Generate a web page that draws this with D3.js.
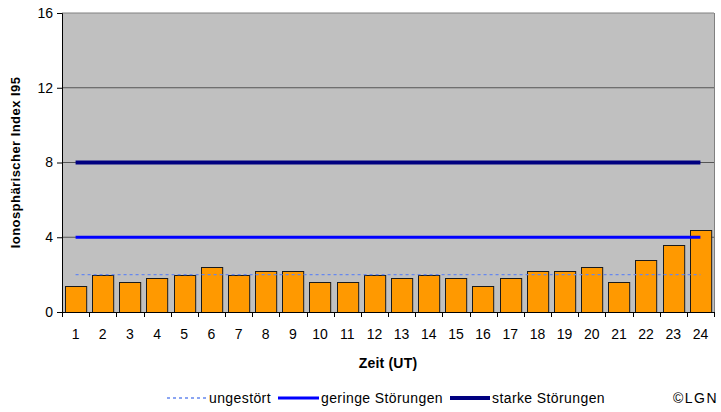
<!DOCTYPE html>
<html><head><meta charset="utf-8">
<script src="https://cdn.jsdelivr.net/npm/d3@7"></script>
<style>
body{margin:0;background:#fff;}
text{font-family:"Liberation Sans",Arial,sans-serif;}
</style></head>
<body><svg id="c" width="721" height="412"></svg>
<script>
const hours = ["1","2","3","4","5","6","7","8","9","10","11","12","13","14","15","16","17","18","19","20","21","22","23","24"];
const i95 = [1.4,2.0,1.6,1.8,2.0,2.4,2.0,2.2,2.2,1.6,1.6,2.0,1.8,2.0,1.8,1.4,1.8,2.2,2.2,2.4,1.6,2.8,3.6,4.4];
const yTicks = [0,4,8,12,16];
const ungestoert = 2;
const geringe = 4;
const starke = 8;
const legendLabels = ["ungestört","geringe Störungen","starke Störungen"];
const yTitle = "Ionosphärischer Index I95";
const xTitle = "Zeit (UT)";
const credit = "©LGN";

const svg = d3.select("#c");
const L = 62, R = 714, T = 13, B = 312;
const x = d3.scaleBand().domain(hours).range([L, R]).paddingInner(0.22).paddingOuter(0.11);
const y = d3.scaleLinear().domain([0, 16]).range([B, T]);

// plot background
svg.append("rect").attr("x", L).attr("y", T).attr("width", R - L).attr("height", B - T).attr("fill", "#c0c0c0");
// gridlines
svg.append("g").selectAll("line").data(yTicks.filter(d => d > 0)).join("line")
  .attr("x1", L).attr("x2", R).attr("y1", d => y(d)).attr("y2", d => y(d))
  .attr("stroke", d => d === 16 ? "#808080" : "#555").attr("stroke-width", 1);
// right border
svg.append("line").attr("x1", R + 0.5).attr("x2", R + 0.5).attr("y1", T).attr("y2", B).attr("stroke", "#808080");

// bars
svg.append("g").selectAll("rect").data(i95).join("rect")
  .attr("x", (d, i) => Math.round(x(hours[i])) + 0.5)
  .attr("y", d => Math.round(y(d)) + 0.5)
  .attr("width", x.bandwidth())
  .attr("height", d => B - Math.round(y(d)))
  .attr("fill", "#ff9900").attr("stroke", "#1a1a1a").attr("stroke-width", 1);

// reference lines
const cx0 = x(hours[0]) + x.bandwidth() / 2;
const cx1 = x(hours[hours.length - 1]) + x.bandwidth() / 2;
const refs = [
  {v: ungestoert, color: "#6688ee", w: 1.3, dash: "3,3"},
  {v: geringe, color: "#0000ff", w: 3, dash: null},
  {v: starke, color: "#000080", w: 4, dash: null}
];
svg.append("g").selectAll("line").data(refs).join("line")
  .attr("x1", cx0).attr("x2", cx1).attr("y1", d => y(d.v)).attr("y2", d => y(d.v))
  .attr("stroke", d => d.color).attr("stroke-width", d => d.w)
  .attr("stroke-dasharray", d => d.dash);

// axes
const yAxis = d3.axisLeft(y).tickValues(yTicks).tickSize(5).tickPadding(4);
const gy = svg.append("g").attr("transform", `translate(${L},0)`).call(yAxis);
gy.select(".domain").attr("stroke", "#000");
gy.selectAll("text").attr("font-size", 14).attr("fill", "#000").attr("font-family", "Liberation Sans, Arial, sans-serif");

const xAxis = d3.axisBottom(x).tickSize(0).tickPadding(17);
const gx = svg.append("g").attr("transform", `translate(0,${B})`).call(xAxis);
gx.select(".domain").attr("stroke", "#000").attr("d", `M${L - 5},0.5H${R}`);
gx.selectAll("text").attr("font-size", 14).attr("fill", "#000").attr("font-family", "Liberation Sans, Arial, sans-serif");
// boundary ticks
const bounds = d3.range(hours.length + 1).map(i => L + i * (R - L) / hours.length);
svg.append("g").selectAll("line").data(bounds).join("line")
  .attr("x1", d => Math.round(d) + 0.5).attr("x2", d => Math.round(d) + 0.5)
  .attr("y1", B).attr("y2", B + 5).attr("stroke", "#000");

// titles
svg.append("text").attr("x", (L + R) / 2).attr("y", 368).attr("text-anchor", "middle")
  .attr("font-weight", "bold").attr("font-size", 14).attr("letter-spacing", 0.2).text(xTitle);
svg.append("text").attr("transform", `translate(20,${(T + B) / 2}) rotate(-90)`).attr("text-anchor", "middle")
  .attr("font-weight", "bold").attr("font-size", 13).attr("letter-spacing", 0.45).text(yTitle);

// legend
const lg = svg.append("g");
const items = [
  {x1: 167, x2: 207, tx: 209, ref: refs[0], label: legendLabels[0]},
  {x1: 278, x2: 319, tx: 321, ref: refs[1], label: legendLabels[1]},
  {x1: 450, x2: 490, tx: 492, ref: refs[2], label: legendLabels[2]}
];
const ly = 398;
items.forEach(it => {
  lg.append("line").attr("x1", it.x1).attr("x2", it.x2).attr("y1", ly).attr("y2", ly)
    .attr("stroke", it.ref.color).attr("stroke-width", it.ref.w).attr("stroke-dasharray", it.ref.dash);
  lg.append("text").attr("x", it.tx).attr("y", ly + 5).attr("font-size", 14).attr("letter-spacing", 0.4).text(it.label);
});
svg.append("text").attr("x", 718).attr("y", ly + 5).attr("text-anchor", "end").attr("font-size", 14).attr("letter-spacing", 1.5).text(credit);
</script></body></html>
